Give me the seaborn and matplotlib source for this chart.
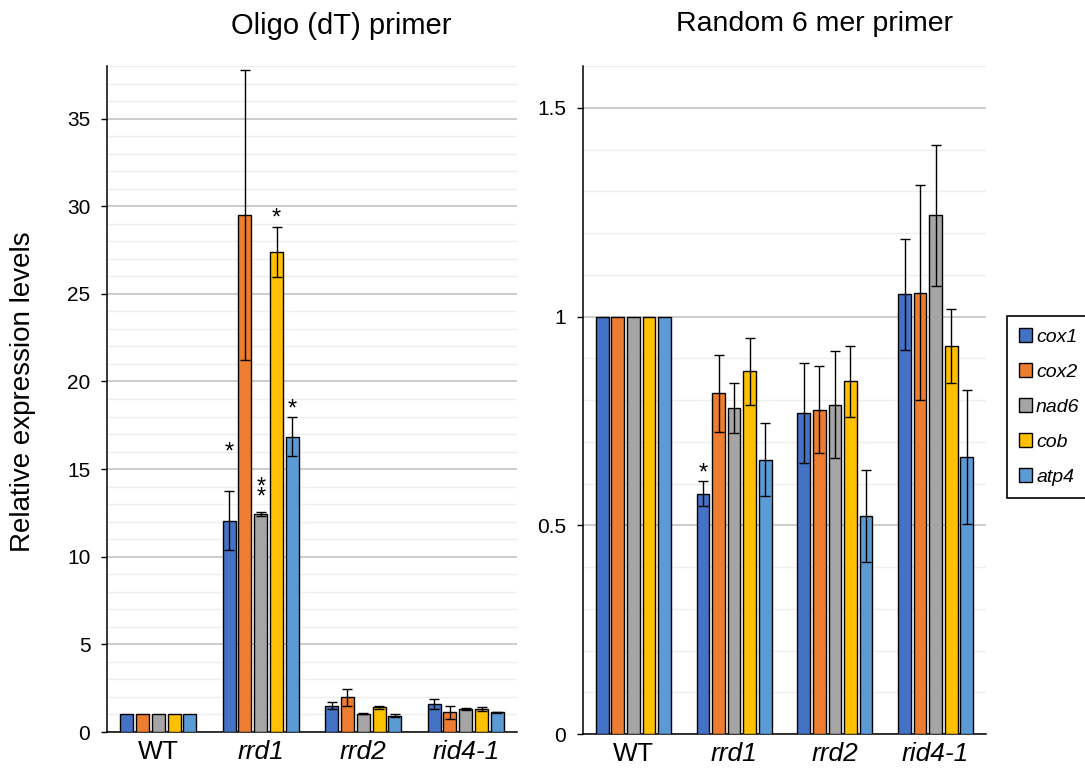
import matplotlib
matplotlib.use("Agg")
import matplotlib.pyplot as plt  # noqa: E402
import pandas as pd  # noqa: E402
import seaborn as sns  # noqa: E402
from matplotlib.container import BarContainer  # noqa: E402
from matplotlib.patches import Patch  # noqa: E402
from matplotlib.ticker import FixedLocator, FuncFormatter, MultipleLocator  # noqa: E402

GENOTYPES = ["WT", "rrd1", "rrd2", "rid4-1"]
GENES = ["cox1", "cox2", "nad6", "cob", "atp4"]
COLORS = ["#4472C4", "#ED7D31", "#A5A5A5", "#FFC000", "#5B9BD5"]

# rows = genes (GENES order), columns = genotypes (GENOTYPES order)
OLIGO_MEAN = [
    [1.0, 12.06, 1.50, 1.60],
    [1.0, 29.50, 1.98, 1.12],
    [1.0, 12.44, 1.03, 1.31],
    [1.0, 27.40, 1.41, 1.31],
    [1.0, 16.86, 0.93, 1.12],
]
OLIGO_ERR = [
    [0.0, 1.70, 0.20, 0.30],
    [0.0, 8.30, 0.48, 0.38],
    [0.0, 0.10, 0.03, 0.07],
    [0.0, 1.42, 0.10, 0.10],
    [0.0, 1.12, 0.07, 0.03],
]
RANDOM_MEAN = [
    [1.0, 0.576, 0.769, 1.053],
    [1.0, 0.816, 0.777, 1.057],
    [1.0, 0.780, 0.789, 1.242],
    [1.0, 0.869, 0.845, 0.929],
    [1.0, 0.657, 0.523, 0.664],
]
RANDOM_ERR = [
    [0.0, 0.030, 0.120, 0.133],
    [0.0, 0.092, 0.105, 0.257],
    [0.0, 0.060, 0.128, 0.168],
    [0.0, 0.080, 0.085, 0.088],
    [0.0, 0.087, 0.110, 0.160],
]
# significance marks: (genotype, gene, mark text)
OLIGO_STARS = [("rrd1", "cox1", "*"), ("rrd1", "nad6", "*\n*"), ("rrd1", "cob", "*"), ("rrd1", "atp4", "*")]
RANDOM_STARS = [("rrd1", "cox1", "*")]
# gap (points) between error-bar top and star centre, per mark
OLIGO_STAR_GAP = [33, 16, 11.5, 11]
RANDOM_STAR_GAP = [11]

sns.set_style("white")
plt.rcParams["font.family"] = ["Liberation Sans", "DejaVu Sans"]
plt.rcParams["text.color"] = "black"
plt.rcParams["xtick.color"] = "black"
plt.rcParams["ytick.color"] = "black"

W, H = 1085, 769
fig = plt.figure(figsize=(W / 100, H / 100), dpi=100)
ax1 = fig.add_axes([107 / W, 1 - 732 / H, 410 / W, 666 / H])
ax2 = fig.add_axes([583 / W, 1 - 734 / H, 403 / W, 668 / H])


def draw_panel(ax, mean, err, stars, gaps, ymax, major, minor):
    df = pd.DataFrame([{"genotype": g, "gene": gene, "value": mean[i][j]}
                       for i, gene in enumerate(GENES)
                       for j, g in enumerate(GENOTYPES)])
    sns.barplot(data=df, x="genotype", y="value", hue="gene", order=GENOTYPES,
                hue_order=GENES, palette=COLORS, saturation=1, width=0.77, gap=0.18,
                edgecolor="black", linewidth=1, errorbar=None, legend=False,
                ax=ax, zorder=3)
    bar_sets = [c for c in ax.containers if isinstance(c, BarContainer)]
    tops = {}
    for i, cont in enumerate(bar_sets):
        for bar in cont:
            xc = bar.get_x() + bar.get_width() / 2
            j = int(round(xc))
            e = err[i][j]
            h = bar.get_height()
            tops[(GENOTYPES[j], GENES[i])] = (xc, h + e)
            if e > 0:
                ax.errorbar(xc, h, yerr=e, fmt="none", ecolor="black",
                            elinewidth=1, capsize=3.8, capthick=1, zorder=4)
    fs = 17
    for (g, gene, mark), gap in zip(stars, gaps):
        xc, yt = tops[(g, gene)]
        ax.annotate(mark, (xc, yt), xytext=(0, gap - 0.58 * fs),
                    textcoords="offset points", ha="center", va="baseline",
                    fontsize=fs, linespacing=0.33, zorder=5)

    ax.set_xlim(-0.5, 3.5)
    ax.set_ylim(0, ymax)
    ax.yaxis.set_major_locator(MultipleLocator(major))
    ax.yaxis.set_minor_locator(MultipleLocator(minor))
    ax.yaxis.set_major_formatter(FuncFormatter(lambda v, p: f"{v:g}"))
    ax.grid(which="major", axis="y", color="#BFBFBF", lw=1.1)
    ax.grid(which="minor", axis="y", color="#EEEEEE", lw=1)
    ax.set_axisbelow(True)
    ax.xaxis.set_minor_locator(FixedLocator([-0.5, 0.5, 1.5, 2.5, 3.5]))
    ax.tick_params(axis="x", which="major", length=0, pad=6, labelsize=19)
    ax.tick_params(axis="x", which="minor", length=5, width=1, color="black")
    ax.tick_params(axis="y", which="major", length=4, width=1, color="black",
                   pad=8, labelsize=15, left=True)
    ax.tick_params(axis="y", which="minor", length=0)
    for lbl in ax.get_xticklabels():
        if lbl.get_text() != "WT":
            lbl.set_fontstyle("italic")
    for s in ["top", "right"]:
        ax.spines[s].set_visible(False)
    for s in ["left", "bottom"]:
        ax.spines[s].set_color("black")
        ax.spines[s].set_linewidth(1.1)
    ax.set_xlabel("")
    ax.set_ylabel("")


draw_panel(ax1, OLIGO_MEAN, OLIGO_ERR, OLIGO_STARS, OLIGO_STAR_GAP, 38, 5, 1)
draw_panel(ax2, RANDOM_MEAN, RANDOM_ERR, RANDOM_STARS, RANDOM_STAR_GAP, 1.6, 0.5, 0.1)

fig.text(341 / W, 1 - 26 / H, "Oligo (dT) primer", ha="center", va="center", fontsize=21)
fig.text(814 / W, 1 - 24 / H, "Random 6 mer primer", ha="center", va="center", fontsize=20.5)
fig.text(23 / W, 1 - 392 / H, "Relative expression levels", rotation=90,
         ha="center", va="center", fontsize=20)

handles = [Patch(facecolor=c, edgecolor="black", lw=1, label=g) for c, g in zip(COLORS, GENES)]
leg = fig.legend(handles=handles, loc="center left", bbox_to_anchor=(1007 / W, 1 - 407 / H),
                 frameon=True, fancybox=False, edgecolor="black", framealpha=1,
                 prop={"style": "italic", "size": 14}, handlelength=0.7, handleheight=0.7,
                 handletextpad=0.2, labelspacing=0.9, borderpad=0.6, borderaxespad=0)
leg.get_frame().set_linewidth(1.2)

fig.savefig("out.png", dpi=100)
